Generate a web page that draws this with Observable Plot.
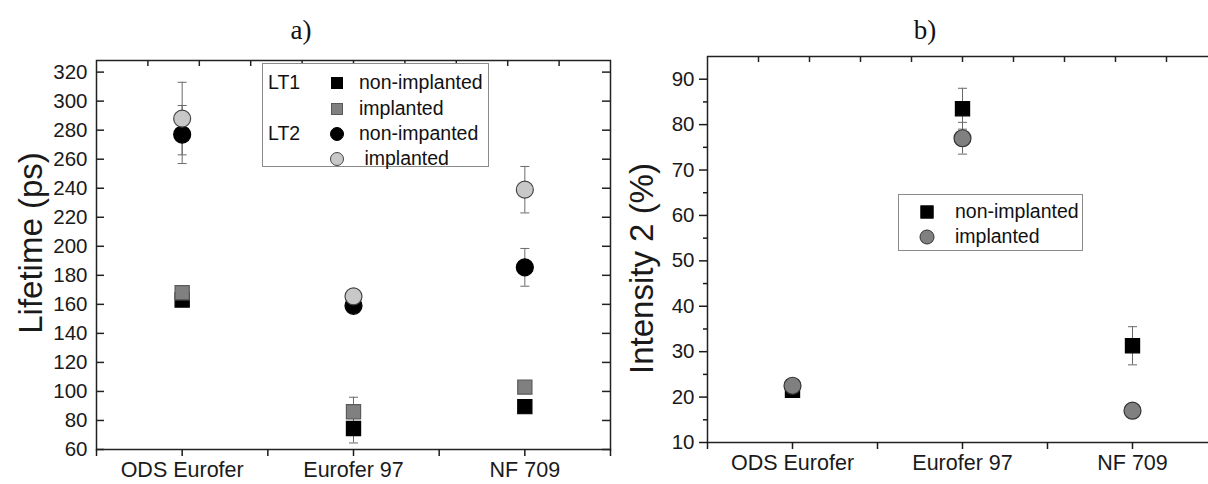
<!DOCTYPE html>
<html><head><meta charset="utf-8">
<script src="https://cdn.jsdelivr.net/npm/d3@7"></script>
<script src="https://cdn.jsdelivr.net/npm/@observablehq/plot@0.6"></script>
<style>
body{margin:0;background:#fff;overflow:hidden;font-family:"Liberation Sans",Arial,sans-serif;color:#111}
#wrap{position:relative;width:1208px;height:484px;overflow:hidden}
#wrap svg.plot{position:absolute;top:0}
.ttl{position:absolute;font-family:"Liberation Serif","Times New Roman",serif;font-size:27px;transform:translateX(-50%);top:15px}
.leg{position:absolute;border:1.5px solid #8a8a8a;background:#fff;box-sizing:border-box}
.leg span{position:absolute;font-size:19.5px;line-height:1;transform:translateY(-50%);white-space:nowrap;color:#111}
.leg i{position:absolute;transform:translate(-50%,-50%);box-sizing:border-box}
</style>
</head><body>
<div id="wrap"></div>
<script>
// ---------- data ----------
const categories = ["ODS Eurofer", "Eurofer 97", "NF 709"];

// panel a) lifetimes (ps)
const lt1NonImplanted    = [163, 74.5, 89.5];
const lt1NonImplantedErr = [2, 10, 2];
const lt1Implanted       = [168, 86, 103];
const lt1ImplantedErr    = [2, 10, 3];
const lt2NonImplanted    = [277, 159, 185.5];
const lt2NonImplantedErr = [20, 3, 13];
const lt2Implanted       = [288, 165.5, 239];
const lt2ImplantedErr    = [25, 3, 16];

// panel b) intensity 2 (%)
const int2NonImplanted    = [21.5, 83.5, 31.3];
const int2NonImplantedErr = [1, 4.5, 4.2];
const int2Implanted       = [22.5, 77, 17];
const int2ImplantedErr    = [1, 3.5, 1];

// axis ticks
const lifetimeTicks  = [60, 80, 100, 120, 140, 160, 180, 200, 220, 240, 260, 280, 300, 320];
const intensityTicks = [10, 20, 30, 40, 50, 60, 70, 80, 90];
const intensityMinor = [15, 25, 35, 45, 55, 65, 75, 85];
const bottomTicks    = [0.5, 1, 1.5, 2, 2.5, 3, 3.5];
const topTicks       = [0.8, 1.1, 1.4, 1.7, 2.0, 2.3, 2.6, 2.9, 3.2];

// legends
const legendA = [
  {group: "LT1", label: "non-implanted", shape: "square", fill: "#000", stroke: "#000"},
  {group: "",    label: "implanted",     shape: "square", fill: "#808080", stroke: "#5a5a5a"},
  {group: "LT2", label: "non-impanted",  shape: "circle", fill: "#000", stroke: "#000"},
  {group: "",    label: " implanted",    shape: "circle", fill: "#c8c8c8", stroke: "#444"}
];
const legendB = [
  {label: "non-implanted", shape: "square", fill: "#000", stroke: "#000"},
  {label: "implanted",     shape: "circle", fill: "#808080", stroke: "#333"}
];

// ---------- helpers ----------
const rows = (vals, errs) => vals.map((v, i) => ({x: i + 1, y: v, lo: v - errs[i], hi: v + errs[i]}));
const capSymbol = {draw(ctx, size) { const r = Math.sqrt(size / Math.PI); ctx.moveTo(-r, 0); ctx.lineTo(r, 0); }};
const errMarks = (data) => [
  Plot.ruleX(data, {x: "x", y1: "lo", y2: "hi", stroke: "#6a6a6a", strokeWidth: 1}),
  Plot.dot(data, {x: "x", y: "lo", symbol: capSymbol, r: 4.5, stroke: "#6a6a6a", strokeWidth: 1}),
  Plot.dot(data, {x: "x", y: "hi", symbol: capSymbol, r: 4.5, stroke: "#6a6a6a", strokeWidth: 1})
];
const dotMark = (data, symbol, r, fill, stroke) =>
  Plot.dot(data, {x: "x", y: "y", symbol, r, fill, stroke, strokeWidth: 1.2});
const catFormat = d => Number.isInteger(d) ? categories[d - 1] : "";

const style = {fontFamily: "'Liberation Sans', Arial, sans-serif", fontSize: "20.5px", color: "#1a1a1a", background: "transparent", overflow: "visible"};

// ---------- panel a ----------
const a1 = rows(lt1NonImplanted, lt1NonImplantedErr);
const a2 = rows(lt1Implanted, lt1ImplantedErr);
const a3 = rows(lt2NonImplanted, lt2NonImplantedErr);
const a4 = rows(lt2Implanted, lt2ImplantedErr);
const aH = 484, aMT = 60, aMB = 35, aW = 620, aML = 96, aMR = 10;
const aFH = aH - aMT - aMB, aFW = aW - aML - aMR;

const plotA = Plot.plot({
  width: aW, height: aH, marginLeft: aML, marginRight: aMR, marginTop: aMT, marginBottom: aMB,
  style,
  x: {domain: [0.5, 3.5], label: null},
  y: {domain: [60, 328], label: null},
  marks: [
    Plot.frame({stroke: "#222", strokeWidth: 1.5}),
    Plot.tickY(lifetimeTicks, {y: d => d, insetRight: aFW - 8, stroke: "#222", strokeWidth: 1.5}),
    Plot.tickY(lifetimeTicks, {y: d => d, insetLeft: aFW - 8, stroke: "#222", strokeWidth: 1.5}),
    Plot.tickX(topTicks, {x: d => d, insetBottom: aFH - 6, stroke: "#222", strokeWidth: 1.5}),
    Plot.axisY({ticks: lifetimeTicks, tickSize: 0, tickPadding: 9, fontSize: 20.5, label: null}),
    Plot.axisX({ticks: bottomTicks, tickSize: 7, tickPadding: 5, fontSize: 21.5, tickFormat: catFormat, label: null, strokeWidth: 1.5}),
    Plot.text(["Lifetime (ps)"], {frameAnchor: "left", textAnchor: "middle", rotate: -90, dx: -65, dy: -12, fontSize: 33, fill: "#1a1a1a"}),
    ...errMarks(a1), ...errMarks(a2), ...errMarks(a3), ...errMarks(a4),
    dotMark(a1, "square", 8, "#000", "#000"),
    dotMark(a2, "square", 8, "#808080", "#5a5a5a"),
    dotMark(a3, "circle", 8.5, "#000", "#000"),
    dotMark(a4, "circle", 8.5, "#c8c8c8", "#444")
  ]
});
plotA.classList.add("plot");
plotA.style.left = "0px";

// ---------- panel b ----------
const b1 = rows(int2NonImplanted, int2NonImplantedErr);
const b2 = rows(int2Implanted, int2ImplantedErr);
const bH = 484, bMT = 56, bMB = 42, bW = 588, bML = 87;
const bFH = bH - bMT - bMB;

const plotB = Plot.plot({
  width: bW, height: bH, marginLeft: bML, marginRight: 0, marginTop: bMT, marginBottom: bMB,
  style,
  x: {domain: [0.5, 3.5], range: [bML, bML + 510], label: null},
  y: {domain: [10, 95], label: null},
  marks: [
    Plot.ruleX([0.5], {stroke: "#222", strokeWidth: 1.5}),
    Plot.ruleY([10], {stroke: "#222", strokeWidth: 1.5}),
    Plot.ruleY([95], {stroke: "#222", strokeWidth: 1.5}),
    Plot.tickX(topTicks, {x: d => d, insetBottom: bFH - 6, stroke: "#222", strokeWidth: 1.5}),
    Plot.axisY({ticks: intensityTicks, tickSize: 8, tickPadding: 5, fontSize: 20.5, label: null, strokeWidth: 1.5}),
    Plot.axisY({ticks: intensityMinor, tickSize: 4, tickFormat: () => "", label: null, strokeWidth: 1.5}),
    Plot.axisX({ticks: bottomTicks, tickSize: 7, tickPadding: 5, fontSize: 21.5, tickFormat: catFormat, label: null, strokeWidth: 1.5}),
    Plot.text(["Intensity 2 (%)"], {frameAnchor: "left", textAnchor: "middle", rotate: -90, dx: -65, dy: 19, fontSize: 33, fill: "#1a1a1a"}),
    ...errMarks(b1), ...errMarks(b2),
    dotMark(b1, "square", 8, "#000", "#000"),
    dotMark(b2, "circle", 8.5, "#808080", "#333")
  ]
});
plotB.classList.add("plot");
plotB.style.left = "620px";

// ---------- assemble ----------
const wrap = document.getElementById("wrap");
wrap.append(plotA, plotB);

function title(text, cx) {
  const d = document.createElement("div");
  d.className = "ttl"; d.textContent = text; d.style.left = cx + "px";
  wrap.append(d);
}
title("a)", 301);
title("b)", 925);

function legend(items, box, rowYs, groupX, markX, textX, mSize) {
  const d = document.createElement("div");
  d.className = "leg";
  Object.assign(d.style, {left: box[0] + "px", top: box[1] + "px", width: box[2] + "px", height: box[3] + "px"});
  items.forEach((it, i) => {
    const y = rowYs[i];
    if (it.group) {
      const g = document.createElement("span");
      g.textContent = it.group; g.style.left = groupX + "px"; g.style.top = y + "px";
      d.append(g);
    }
    const m = document.createElement("i");
    const s = it.shape === "circle" ? mSize + 2 : mSize;
    Object.assign(m.style, {left: markX + "px", top: y + "px", width: s + "px", height: s + "px",
      background: it.fill, border: "1.2px solid " + it.stroke, borderRadius: it.shape === "circle" ? "50%" : "0"});
    d.append(m);
    const t = document.createElement("span");
    t.textContent = it.label; t.style.left = textX + "px"; t.style.top = y + "px"; t.style.whiteSpace = "pre";
    d.append(t);
  });
  wrap.append(d);
}
legend(legendA, [262, 63, 227, 104], [19, 45, 70, 95], 5, 74, 96, 12);
legend(legendB, [898, 194, 185, 57], [17, 42], 0, 28, 56, 13);
</script>
</body></html>
